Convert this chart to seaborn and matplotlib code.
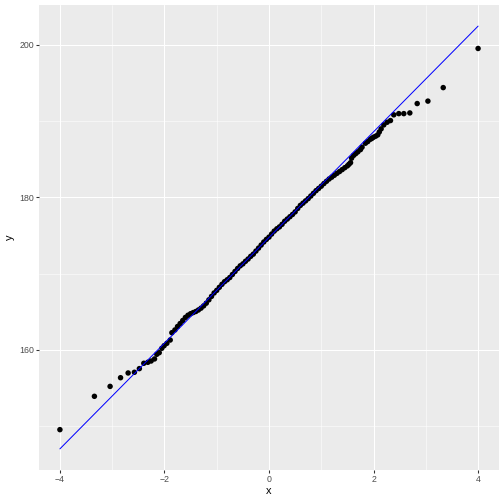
import matplotlib
matplotlib.use("Agg")
import matplotlib.pyplot as plt
import seaborn as sns
import pandas as pd

# ---- values ----
left_x = [-4.0, -3.34, -3.04, -2.84, -2.695, -2.575, -2.48, -2.395, -2.318,
          -2.255, -2.19, -2.146, -2.10, -2.05, -2.006, -1.954, -1.89, -1.858]
left_y = [149.53, 153.9, 155.2, 156.34, 156.96, 157.05, 157.53, 158.23, 158.36,
          158.53, 158.8, 159.41, 159.62, 160.2, 160.54, 160.85, 161.28, 162.24]

mid_x = [-1.80, -1.75, -1.70, -1.65, -1.60, -1.55, -1.50, -1.45, -1.40, -1.35,
         -1.30, -1.25, -1.20, -1.15, -1.10, -1.05, -1.00, -0.95, -0.90, -0.85,
         -0.80, -0.75, -0.70, -0.65, -0.60, -0.55, -0.50, -0.45, -0.40, -0.35,
         -0.30, -0.25, -0.20, -0.15, -0.10, -0.05, 0.00, 0.05, 0.10, 0.15,
         0.20, 0.25, 0.30, 0.35, 0.40, 0.45, 0.50, 0.55, 0.60, 0.65,
         0.70, 0.75, 0.80, 0.85, 0.90, 0.95, 1.00, 1.05, 1.10, 1.15,
         1.20, 1.25, 1.30, 1.35, 1.40, 1.45, 1.50, 1.53, 1.56, 1.58,
         1.62, 1.66, 1.70, 1.75]
mid_y = [162.60, 163.05, 163.44, 163.84, 164.24, 164.53, 164.73, 164.88, 165.02, 165.22,
         165.46, 165.76, 166.11, 166.55, 167.00, 167.45, 167.79, 168.19, 168.58, 168.93,
         169.18, 169.47, 169.87, 170.27, 170.66, 171.01, 171.26, 171.60, 171.90, 172.25,
         172.54, 172.94, 173.33, 173.73, 174.13, 174.47, 174.77, 175.17, 175.56, 175.86,
         176.11, 176.45, 176.85, 177.14, 177.44, 177.74, 178.08, 178.53, 178.93, 179.22,
         179.52, 179.82, 180.16, 180.51, 180.86, 181.15, 181.45, 181.79, 182.09, 182.39,
         182.63, 182.88, 183.13, 183.37, 183.62, 183.87, 184.11, 184.32, 184.53, 185.12,
         185.49, 185.72, 185.95, 186.24]

right_x = [1.78, 1.845, 1.89, 1.94, 1.97, 2.0, 2.04, 2.08, 2.11, 2.145, 2.196,
           2.26, 2.324, 2.387, 2.483, 2.579, 2.694, 2.835, 3.04, 3.333, 4.0]
right_y = [186.56, 187.08, 187.3, 187.6, 187.72, 187.87, 188.0, 188.17, 188.55, 188.96, 189.48,
           189.83, 190.05, 190.8, 190.96, 190.96, 191.05, 192.28, 192.6, 194.37, 199.5]

# reference line end points
line_x = [-4.0, 4.0]
line_y = [147.01, 202.43]

df = pd.DataFrame({"x": left_x + mid_x + right_x,
                   "y": left_y + mid_y + right_y})

# ---- ggplot-like look ----
sns.set_theme(style="darkgrid", rc={
    "axes.facecolor": "#EBEBEB",
    "grid.color": "white",
    "axes.edgecolor": "none",
})
plt.rcParams["font.family"] = ["Liberation Sans", "DejaVu Sans"]

fig = plt.figure(figsize=(7, 7), dpi=72)
ax = fig.add_axes([39 / 504, 34 / 504, 460 / 504, 465 / 504])

sns.scatterplot(data=df, x="x", y="y", color="black", s=30,
                edgecolor="none", linewidth=0, ax=ax, zorder=2)
# qq line drawn on top of the points
sns.lineplot(x=line_x, y=line_y, color="blue", linewidth=1.0, ax=ax, zorder=3)

ax.set_xlim(-4.4, 4.4)
ax.set_ylim(144.24, 205.2)
ax.set_xticks([-4, -2, 0, 2, 4])
ax.set_yticks([160, 180, 200])
ax.set_xticks([-3, -1, 1, 3], minor=True)
ax.set_yticks([150, 170, 190], minor=True)
ax.grid(which="major", color="white", linewidth=1.07)
ax.grid(which="minor", color="white", linewidth=0.53)
ax.set_axisbelow(True)

ax.tick_params(which="major", length=2.75, width=1.07, color="#333333",
               labelsize=8.8, labelcolor="#4D4D4D", pad=2.2,
               bottom=True, left=True)
ax.tick_params(which="minor", length=0)

ax.set_xlabel("x", fontsize=11, color="black", labelpad=2.5)
ax.set_ylabel("y", fontsize=11, color="black", labelpad=4)

fig.savefig("out.png", dpi=72)
